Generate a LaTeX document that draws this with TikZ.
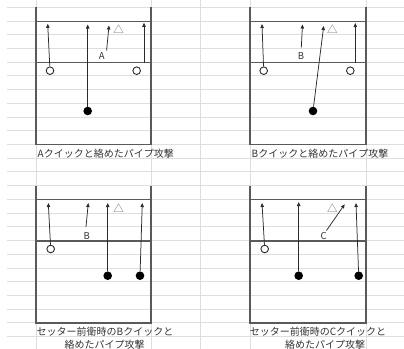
\documentclass[tikz,border=0pt]{standalone}
\usepackage{fontspec}
\newfontfamily\jp{Noto Sans CJK JP}
\usetikzlibrary{arrows.meta}
\definecolor{gridc}{HTML}{DEDEDE}
\definecolor{courtc}{HTML}{5A5A5A}
\definecolor{inkc}{HTML}{2A2A2A}
\definecolor{textc}{HTML}{333333}
\definecolor{tric}{HTML}{6A6A6A}
\begin{document}
\begin{tikzpicture}[x=1bp,y=-1bp,
  gridline/.style={draw=gridc,line width=0.9bp},
  court/.style={draw=courtc,line width=1.2bp},
  mv/.style={draw=inkc,line width=0.75bp,-{Triangle[length=4bp,width=3.4bp]}},
  openp/.style={circle,draw=inkc,line width=0.9bp,fill=white,minimum size=7.6bp,inner sep=0pt},
  fillp/.style={circle,fill=black,minimum size=8.6bp,inner sep=0pt},
  lbl/.style={font=\jp\fontsize{9.5bp}{11bp}\selectfont,text=textc,inner sep=0.5bp},
  tri/.style={font=\jp\fontsize{10.5bp}{11bp}\selectfont,text=tric,inner sep=0pt},
  captxt/.style={font=\jp\fontsize{10bp}{12bp}\selectfont,text=textc,inner sep=0pt}]
\useasboundingbox (0,0) rectangle (404,349);
% spreadsheet grid
\foreach \k in {0,...,25} \draw[gridline] (7,{7.3+13.72*\k}) -- (404,{7.3+13.72*\k});
\foreach \x in {36,151,200,250,366} \draw[gridline] (\x,0) -- (\x,349);
% courts
\foreach \xa/\xb/\dy in {36/151/0, 250/366/0, 36/151/178.4, 250/366/178.4}{
  \draw[court] (\xa,7.3+\dy) -- (\xa,144.5+\dy) -- (\xb,144.5+\dy) -- (\xb,7.3+\dy);
  \draw[court] (\xa,21.4+\dy) -- (\xb,21.4+\dy);
  \draw[court] (\xa,62.5+\dy) -- (\xb,62.5+\dy);
}
% ---------- panel 1
\node[openp] (o1a) at (50,70.7) {};
\node[openp] (o1b) at (136.7,70.7) {};
\node[fillp] (f1) at (87.7,111) {};
\node[lbl] (la) at (101.7,56.5) {A};
\node[tri] (tr1) at (118.5,29.3) {△};
\coordinate (t1a) at (47.7,23.8);
\coordinate (t1b) at (87.7,24.5);
\coordinate (s1c) at (106.6,50.5);
\coordinate (t1c) at (109,25.5);
\coordinate (s1d) at (144,62.5);
\coordinate (t1d) at (144,22.8);
\draw[mv] (o1a) -- (t1a);
\draw[mv] (f1) -- (t1b);
\draw[mv] (s1c) -- (t1c);
\draw[mv] (s1d) -- (t1d);
\node[captxt,anchor=west] (c1) at (37.5,154) {Aクイックと絡めたパイプ攻撃};
% ---------- panel 2
\node[openp] (o2a) at (263.7,70.7) {};
\node[openp] (o2b) at (350.3,70.7) {};
\node[fillp] (f2) at (313,111) {};
\node[lbl] (lb) at (301,56) {B};
\node[tri] (tr2) at (332.3,29.3) {△};
\coordinate (t2a) at (262,24);
\coordinate (s2b) at (301.3,47.5);
\coordinate (t2b) at (302.5,24.5);
\coordinate (t2c) at (323.7,26);
\coordinate (s2d) at (355.3,62.5);
\coordinate (t2d) at (355.3,23);
\draw[mv] (o2a) -- (t2a);
\draw[mv] (s2b) -- (t2b);
\draw[mv] (f2) -- (t2c);
\draw[mv] (s2d) -- (t2d);
\node[captxt,anchor=west] (c2) at (251.5,154) {Bクイックと絡めたパイプ攻撃};
% ---------- panel 3
\node[openp] (o3) at (50.7,249) {};
\node[fillp] (f3a) at (107.7,275.7) {};
\node[fillp] (f3b) at (140,275.7) {};
\node[lbl] (lb3) at (86.7,236) {B};
\node[tri] (tr3) at (118.5,208.3) {△};
\coordinate (t3a) at (48.3,203);
\coordinate (s3b) at (86,226.8);
\coordinate (t3b) at (88.3,203);
\coordinate (t3c) at (107.7,203);
\coordinate (t3d) at (142.3,203);
\draw[mv] (o3) -- (t3a);
\draw[mv] (s3b) -- (t3b);
\draw[mv] (f3a) -- (t3c);
\draw[mv] (f3b) -- (t3d);
\node[captxt] (c3a) at (105,331.5) {セッター前衛時のBクイックと};
\node[captxt] (c3b) at (104.5,344.3) {絡めたパイプ攻撃};
% ---------- panel 4
\node[openp] (o4) at (264.7,249) {};
\node[fillp] (f4a) at (298.7,275.7) {};
\node[fillp] (f4b) at (358.7,275.7) {};
\node[lbl] (lc) at (323.7,235.7) {C};
\node[tri] (tr4) at (332.3,208.3) {△};
\coordinate (t4a) at (262,203);
\coordinate (t4b) at (298.7,202);
\coordinate (s4c) at (326.5,230.5);
\coordinate (t4c) at (344.7,204.3);
\coordinate (t4d) at (356,203);
\draw[mv] (o4) -- (t4a);
\draw[mv] (f4a) -- (t4b);
\draw[mv] (s4c) -- (t4c);
\draw[mv] (f4b) -- (t4d);
\node[captxt] (c4a) at (318,331.5) {セッター前衛時のCクイックと};
\node[captxt] (c4b) at (325,344.3) {絡めたパイプ攻撃};
\end{tikzpicture}
\end{document}
